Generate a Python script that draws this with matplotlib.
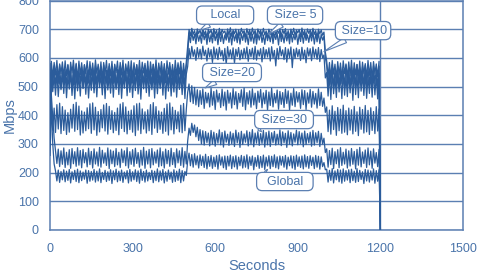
import numpy as np
import matplotlib
matplotlib.use("Agg")
import matplotlib.pyplot as plt

# Throughput per group, sampled every 5 s (0..1200 s)
local_mbps = [
    430, 588, 531, 584, 540, 591, 527, 579, 545, 586,
    533, 590, 538, 577, 529, 585, 547, 592, 535, 581,
    526, 589, 541, 583, 532, 576, 544, 590, 530, 587,
    539, 582, 528, 593, 546, 578, 534, 586, 525, 584,
    543, 591, 531, 580, 537, 588, 529, 575, 548, 589,
    532, 584, 540, 592, 527, 579, 545, 587, 533, 590,
    528, 583, 542, 576, 536, 591, 530, 585, 547, 581,
    534, 589, 526, 586, 541, 578, 538, 593, 529, 582,
    546, 587, 532, 580, 527, 590, 543, 584, 535, 577,
    530, 592, 539, 583, 544, 588, 528, 581, 537, 586,
    640, 699, 677, 703, 682, 695, 672, 701, 685, 697,
    676, 704, 681, 694, 670, 700, 686, 698, 674, 702,
    683, 696, 671, 703, 679, 699, 687, 694, 673, 701,
    680, 705, 675, 697, 684, 700, 669, 698, 678, 703,
    686, 695, 672, 702, 681, 699, 676, 704, 683, 696,
    670, 701, 685, 697, 677, 703, 680, 694, 674, 700,
    682, 698, 671, 704, 679, 696, 686, 701, 673, 699,
    684, 702, 676, 695, 669, 700, 681, 703, 678, 697,
    687, 699, 674, 704, 680, 696, 672, 701, 685, 698,
    677, 703, 682, 695, 671, 700, 684, 697, 679, 690,
    620, 589, 535, 584, 529, 591, 543, 578, 531, 587,
    540, 582, 527, 590, 545, 579, 533, 586, 538, 592,
    529, 583, 541, 577, 536, 589, 526, 585, 544, 580,
    532, 591, 539, 584, 528, 587, 546, 579, 534, 588,
    0,
]
size5_mbps = [
    390, 568, 505, 572, 498, 561, 511, 575, 494, 566,
    508, 559, 500, 574, 513, 563, 492, 570, 506, 577,
    497, 562, 510, 569, 495, 576, 503, 558, 512, 571,
    499, 565, 491, 573, 507, 560, 514, 568, 496, 575,
    509, 557, 502, 570, 493, 564, 511, 578, 498, 561,
    505, 572, 495, 566, 510, 559, 500, 574, 490, 567,
    512, 563, 497, 576, 504, 569, 493, 558, 508, 573,
    494, 570, 511, 562, 499, 577, 506, 565, 492, 560,
    507, 574, 496, 568, 513, 556, 501, 571, 497, 566,
    503, 561, 509, 575, 495, 567, 510, 559, 500, 570,
    610, 687, 653, 690, 661, 682, 649, 689, 658, 680,
    651, 691, 663, 684, 647, 688, 656, 681, 652, 690,
    660, 683, 646, 689, 657, 686, 650, 680, 662, 688,
    654, 685, 645, 691, 659, 681, 653, 687, 648, 684,
    661, 690, 655, 682, 646, 687, 658, 683, 651, 689,
    648, 684, 662, 690, 654, 680, 647, 688, 660, 682,
    656, 689, 650, 683, 664, 686, 645, 691, 657, 681,
    652, 687, 659, 684, 649, 690, 655, 682, 663, 688,
    647, 683, 657, 689, 651, 685, 661, 680, 654, 687,
    659, 690, 648, 684, 656, 688, 650, 682, 662, 675,
    600, 573, 497, 566, 508, 576, 491, 562, 504, 571,
    495, 568, 511, 559, 498, 575, 502, 565, 493, 570,
    509, 563, 496, 577, 505, 560, 512, 569, 494, 574,
    500, 566, 507, 558, 497, 572, 510, 564, 492, 571,
    0,
]
size10_mbps = [
    320, 548, 482, 541, 470, 553, 465, 538, 489, 546,
    476, 551, 461, 537, 491, 547, 469, 542, 457, 550,
    485, 539, 467, 554, 493, 543, 473, 546, 460, 536,
    487, 552, 478, 544, 464, 549, 496, 540, 471, 551,
    458, 545, 488, 538, 477, 553, 463, 546, 490, 541,
    472, 549, 459, 536, 494, 552, 468, 543, 480, 547,
    462, 540, 486, 555, 474, 538, 456, 548, 492, 542,
    479, 550, 466, 537, 489, 546, 460, 553, 475, 539,
    493, 544, 470, 551, 457, 541, 484, 548, 467, 537,
    481, 552, 463, 545, 490, 539, 472, 550, 458, 543,
    570, 633, 599, 640, 605, 628, 591, 636, 602, 630,
    596, 641, 607, 627, 589, 634, 603, 629, 584, 638,
    600, 631, 594, 637, 606, 626, 590, 633, 576, 639,
    602, 628, 597, 635, 581, 630, 605, 636, 593, 627,
    598, 633, 601, 638, 588, 629, 604, 634, 595, 640,
    592, 627, 606, 632, 586, 637, 599, 629, 603, 635,
    589, 639, 600, 626, 572, 633, 596, 640, 607, 628,
    594, 636, 585, 631, 601, 638, 566, 630, 598, 634,
    604, 629, 591, 637, 597, 627, 583, 635, 606, 632,
    590, 638, 602, 630, 595, 636, 587, 629, 600, 610,
    530, 549, 467, 542, 455, 553, 475, 537, 462, 547,
    481, 540, 458, 551, 470, 536, 465, 546, 478, 543,
    452, 554, 472, 539, 461, 548, 484, 541, 469, 550,
    459, 537, 476, 545, 463, 552, 471, 538, 457, 546,
    0,
]
size20_mbps = [
    260, 415, 348, 425, 340, 437, 352, 442, 336, 430,
    347, 418, 333, 409, 341, 421, 355, 438, 344, 445,
    350, 432, 331, 415, 338, 411, 346, 426, 353, 440,
    337, 443, 349, 428, 330, 413, 342, 420, 356, 436,
    345, 441, 334, 431, 351, 416, 339, 410, 347, 425,
    332, 439, 354, 444, 343, 429, 335, 414, 350, 418,
    341, 433, 329, 440, 348, 442, 336, 422, 352, 412,
    338, 419, 346, 437, 333, 444, 355, 430, 340, 415,
    351, 411, 337, 424, 344, 439, 331, 443, 349, 428,
    335, 417, 353, 412, 342, 435, 339, 441, 346, 420,
    480, 509, 447, 503, 441, 497, 436, 489, 430, 486,
    438, 492, 424, 480, 443, 477, 429, 494, 435, 483,
    420, 488, 446, 476, 427, 491, 433, 481, 418, 487,
    442, 478, 425, 493, 437, 482, 422, 476, 444, 489,
    431, 495, 419, 479, 439, 485, 428, 492, 436, 477,
    423, 484, 445, 490, 426, 478, 440, 487, 417, 481,
    434, 494, 429, 476, 443, 488, 421, 483, 438, 479,
    427, 491, 441, 485, 418, 477, 435, 493, 430, 482,
    446, 479, 424, 489, 437, 486, 420, 478, 442, 490,
    428, 483, 439, 476, 425, 492, 434, 480, 431, 460,
    410, 429, 343, 418, 334, 433, 350, 414, 330, 427,
    346, 421, 337, 435, 341, 416, 332, 425, 348, 419,
    335, 431, 344, 412, 329, 428, 351, 420, 338, 434,
    342, 417, 333, 426, 347, 413, 336, 430, 345, 422,
    0,
]
size30_mbps = [
    540, 470, 390, 320, 275, 232, 282, 221, 276, 229,
    286, 218, 271, 227, 280, 215, 284, 231, 273, 222,
    287, 226, 277, 217, 281, 234, 270, 220, 285, 228,
    274, 216, 283, 230, 272, 223, 288, 219, 278, 233,
    269, 225, 286, 214, 279, 231, 275, 221, 284, 227,
    271, 218, 282, 235, 276, 224, 287, 216, 273, 229,
    280, 222, 285, 232, 270, 219, 278, 226, 288, 215,
    275, 230, 281, 217, 284, 227, 272, 233, 279, 220,
    286, 224, 273, 216, 282, 231, 277, 222, 285, 228,
    270, 218, 283, 234, 276, 225, 287, 219, 274, 230,
    310, 355, 330, 372, 340, 366, 325, 358, 312, 350,
    300, 346, 296, 343, 305, 338, 293, 347, 299, 341,
    292, 336, 303, 349, 297, 340, 289, 345, 306, 334,
    295, 342, 301, 337, 291, 348, 304, 339, 288, 344,
    298, 335, 306, 346, 293, 341, 300, 350, 290, 338,
    303, 343, 295, 336, 302, 347, 289, 340, 297, 345,
    291, 339, 305, 344, 296, 334, 300, 349, 294, 342,
    304, 337, 288, 346, 299, 340, 293, 335, 306, 348,
    297, 343, 302, 338, 290, 345, 298, 336, 304, 341,
    292, 347, 296, 339, 305, 344, 291, 337, 300, 320,
    270, 283, 219, 277, 228, 285, 214, 273, 231, 280,
    217, 287, 225, 271, 230, 282, 216, 276, 223, 284,
    229, 274, 213, 281, 226, 288, 220, 272, 232, 279,
    218, 286, 227, 275, 215, 283, 233, 270, 221, 281,
    0,
]
global_mbps = [
    580, 420, 300, 230, 206, 171, 209, 166, 204, 175,
    210, 168, 205, 173, 211, 164, 203, 176, 208, 169,
    212, 165, 206, 172, 202, 177, 209, 163, 207, 170,
    204, 174, 211, 167, 205, 171, 213, 165, 201, 176,
    208, 169, 203, 173, 210, 162, 206, 175, 212, 168,
    205, 172, 209, 166, 202, 178, 207, 164, 211, 170,
    203, 175, 210, 169, 206, 163, 212, 173, 204, 167,
    209, 171, 201, 176, 208, 165, 205, 172, 213, 168,
    206, 174, 211, 164, 203, 170, 209, 177, 202, 166,
    210, 169, 205, 173, 212, 165, 207, 171, 204, 190,
    240, 268, 224, 263, 219, 266, 227, 258, 216, 262,
    225, 257, 218, 264, 213, 256, 222, 260, 215, 254,
    221, 259, 212, 262, 226, 255, 217, 258, 211, 257,
    223, 261, 214, 256, 220, 259, 212, 254, 224, 260,
    216, 257, 219, 262, 213, 255, 225, 258, 210, 253,
    222, 260, 215, 256, 218, 261, 211, 254, 223, 259,
    214, 257, 221, 262, 217, 255, 213, 258, 226, 256,
    219, 260, 212, 254, 224, 259, 216, 257, 211, 261,
    222, 255, 218, 258, 213, 262, 220, 256, 215, 259,
    225, 254, 214, 260, 219, 257, 212, 255, 221, 235,
    210, 212, 167, 208, 173, 214, 164, 206, 175, 211,
    168, 209, 163, 213, 170, 207, 174, 210, 165, 212,
    172, 205, 166, 214, 169, 208, 176, 203, 162, 211,
    171, 209, 167, 206, 174, 213, 163, 207, 170, 210,
    0,
]

series = [local_mbps, size5_mbps, size10_mbps, size20_mbps, size30_mbps, global_mbps]
seconds = np.arange(len(local_mbps)) * 5

# callout labels: (text, label position, point on the series)
callout_texts = ["   Local   ", " Size= 5 ", " Size=10", " Size=20 ", " Size=30 ", "  Global  "]
callout_at = [(636, 749), (890, 749), (1137, 695), (661, 549), (850, 385), (853, 169)]
callout_tip = [(545, 697), (792, 682), (995, 622), (563, 495), (755, 348), (780, 205)]

x_ticks = [0, 300, 600, 900, 1200, 1500]
y_ticks = [0, 100, 200, 300, 400, 500, 600, 700, 800]

line_color = "#2b5c9b"
text_color = "#4a74aa"
grid_color = "#5b7fb2"

plt.rcParams["font.family"] = ["Liberation Sans", "DejaVu Sans"]

fig = plt.figure(figsize=(4.81, 2.78), dpi=100)
ax = fig.add_axes([50 / 481, 48 / 278, 413 / 481, 229.5 / 278])

for s in series:
    ax.plot(seconds, s, color=line_color, lw=0.9, zorder=3)

ax.axvline(1200, color=grid_color, lw=1.0, zorder=2)

ax.set_xlim(0, 1500)
ax.set_ylim(0, 800)
ax.set_xticks(x_ticks)
ax.set_yticks(y_ticks)
ax.grid(axis="y", color=grid_color, lw=1.0, zorder=1)
ax.tick_params(length=0, labelsize=9, colors=text_color)
ax.tick_params(axis="x", pad=9)
ax.tick_params(axis="y", pad=8)
for sp in ax.spines.values():
    sp.set_color(grid_color)
    sp.set_linewidth(1.1)

ax.set_xlabel("Seconds", fontsize=10.5, color=text_color, labelpad=3)
ax.set_ylabel("Mbps", fontsize=10.5, color=text_color, labelpad=1)

for txt, pos, tip in zip(callout_texts, callout_at, callout_tip):
    ax.annotate(
        txt, xy=tip, xytext=pos, ha="center", va="center",
        fontsize=9, color=text_color, zorder=5,
        bbox=dict(boxstyle="round,pad=0.25,rounding_size=0.45", fc="white", ec=grid_color, lw=0.9),
        arrowprops=dict(arrowstyle="wedge,tail_width=0.45", fc="white", ec=grid_color, lw=0.8,
                        shrinkA=0, shrinkB=0),
    )

fig.savefig("out.png", dpi=100)
